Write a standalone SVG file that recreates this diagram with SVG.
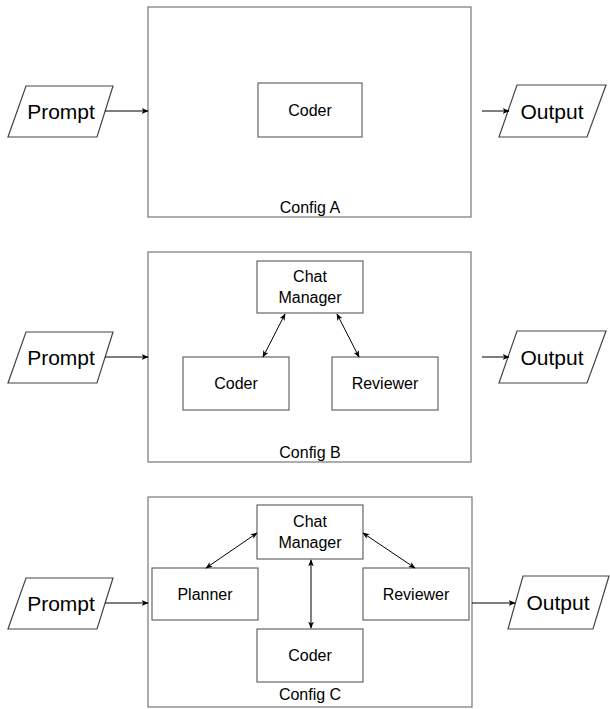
<svg xmlns="http://www.w3.org/2000/svg" width="610" height="709" viewBox="0 0 610 709">
<defs>
<style>
.frame{fill:#fff;stroke:#777;stroke-width:1.2}
.node{fill:#fff;stroke:#666;stroke-width:1.2}
.io{fill:#fff;stroke:#444;stroke-width:1.2}
text{font-family:"Liberation Sans",Arial,sans-serif;fill:#000;text-anchor:middle}
.t{font-size:16px}
.big{font-size:21px}
.c line{stroke:#000;stroke-width:1}
</style>
<marker id="ah" viewBox="0 0 10 10" refX="9" refY="5" markerWidth="7" markerHeight="7" orient="auto-start-reverse" markerUnits="userSpaceOnUse">
<path d="M0,1 L10,5 L0,9 L2.5,5 Z" fill="#000"/>
</marker>
</defs>
<rect width="610" height="709" fill="#fff"/>

<g id="configA">
<rect class="frame" x="148" y="7" width="323" height="210"/>
<text class="t" x="310" y="213">Config A</text>
</g>
<g id="configB">
<rect class="frame" x="148" y="252" width="323" height="210"/>
<text class="t" x="310" y="458">Config B</text>
</g>
<g id="configC">
<rect class="frame" x="148" y="497" width="324" height="210"/>
<text class="t" x="310" y="700">Config C</text>
</g>

<g id="promptA"><polygon class="io" points="26,86 113,86 97,137 8,137"/><text class="big" x="61" y="119">Prompt</text></g>
<g id="outputA"><polygon class="io" points="517,85 606,85 587,137 499,137"/><text class="big" x="552" y="119">Output</text></g>
<g id="coderA"><rect class="node" x="258" y="83" width="104" height="54"/><text class="t" x="310" y="116">Coder</text></g>

<g id="promptB"><polygon class="io" points="26,332 113,332 97,383 8,383"/><text class="big" x="61" y="365">Prompt</text></g>
<g id="outputB"><polygon class="io" points="517,331 606,331 587,383 499,383"/><text class="big" x="552" y="365">Output</text></g>
<g id="chatB"><rect class="node" x="257" y="261" width="106" height="52"/><text class="t" x="310" y="282">Chat</text><text class="t" x="310" y="303">Manager</text></g>
<g id="coderB"><rect class="node" x="183" y="357" width="106" height="53"/><text class="t" x="236" y="389">Coder</text></g>
<g id="reviewerB"><rect class="node" x="332" y="357" width="106" height="53"/><text class="t" x="385" y="389">Reviewer</text></g>

<g id="promptC"><polygon class="io" points="26,578 113,578 97,629 8,629"/><text class="big" x="61" y="611">Prompt</text></g>
<g id="outputC"><polygon class="io" points="523,576 609,576 593,629 508,629"/><text class="big" x="558" y="610">Output</text></g>
<g id="chatC"><rect class="node" x="257" y="505" width="106" height="54"/><text class="t" x="310" y="527">Chat</text><text class="t" x="310" y="548">Manager</text></g>
<g id="plannerC"><rect class="node" x="152" y="568" width="106" height="52"/><text class="t" x="205" y="600">Planner</text></g>
<g id="reviewerC"><rect class="node" x="363" y="568" width="106" height="52"/><text class="t" x="416" y="600">Reviewer</text></g>
<g id="coderC"><rect class="node" x="257" y="629" width="106" height="53"/><text class="t" x="310" y="661">Coder</text></g>

<g class="c" id="connectors">
<line x1="105" y1="111" x2="148" y2="111" marker-end="url(#ah)"/>
<line x1="482" y1="111" x2="509" y2="111" marker-end="url(#ah)"/>
<line x1="105" y1="357" x2="148" y2="357" marker-end="url(#ah)"/>
<line x1="482" y1="357" x2="509" y2="357" marker-end="url(#ah)"/>
<line x1="263" y1="357" x2="285" y2="314" marker-start="url(#ah)" marker-end="url(#ah)"/>
<line x1="337" y1="314" x2="359" y2="357" marker-start="url(#ah)" marker-end="url(#ah)"/>
<line x1="105" y1="603" x2="148" y2="603" marker-end="url(#ah)"/>
<line x1="472" y1="603" x2="515" y2="603" marker-end="url(#ah)"/>
<line x1="206" y1="568" x2="257" y2="533" marker-start="url(#ah)" marker-end="url(#ah)"/>
<line x1="363" y1="533" x2="415" y2="568" marker-start="url(#ah)" marker-end="url(#ah)"/>
<line x1="311" y1="560" x2="311" y2="628" marker-start="url(#ah)" marker-end="url(#ah)"/>
</g>
</svg>
